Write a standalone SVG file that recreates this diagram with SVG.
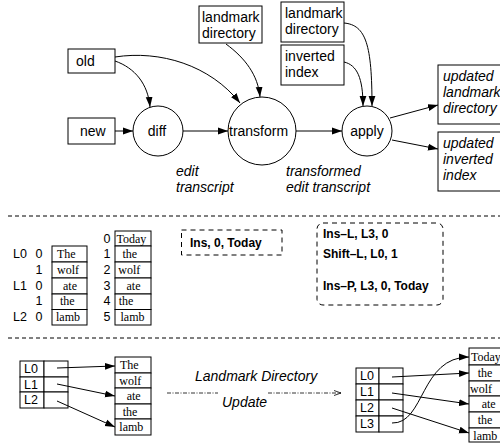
<svg xmlns="http://www.w3.org/2000/svg" width="500" height="443" viewBox="0 0 500 443">
<defs>
<style>
.n{font-family:"Liberation Sans",Arial,sans-serif;font-size:14px;fill:#000}
.it{font-family:"Liberation Sans",Arial,sans-serif;font-size:14px;font-style:italic;fill:#000}
.b{font-family:"Liberation Sans",Arial,sans-serif;font-size:12px;font-weight:bold;fill:#000}
.sm{font-family:"Liberation Sans",Arial,sans-serif;font-size:12.5px;fill:#000}
.t{font-family:"Liberation Serif","Times New Roman",serif;font-size:12px;fill:#000}
.bx{fill:#fff;stroke:#000;stroke-width:1}
.ln{fill:none;stroke:#000;stroke-width:1}
.dl{fill:none;stroke:#000;stroke-width:1;stroke-dasharray:4,3}
.db{fill:none;stroke:#000;stroke-width:1;stroke-dasharray:5,4}
.dd{fill:none;stroke:#000;stroke-width:0.8;stroke-dasharray:4,1.5,1,1.5}
</style>
<marker id="ah" markerWidth="10" markerHeight="8" refX="10" refY="4" orient="auto" markerUnits="userSpaceOnUse"><path d="M0,0.6 L10,4 L0,7.4 z" fill="#000"/></marker>
<marker id="oh" markerWidth="8" markerHeight="6" refX="7" refY="3" orient="auto" markerUnits="userSpaceOnUse"><path d="M0,0.5 L7,3 L0,5.5" fill="none" stroke="#000" stroke-width="0.8"/></marker>
</defs>
<rect width="500" height="443" fill="#fff"/>

<!-- top flow nodes -->
<g id="old"><rect class="bx" x="68" y="49" width="47" height="24"/><text class="n" x="76" y="66">old</text></g>
<g id="new"><rect class="bx" x="68" y="118" width="47" height="26"/><text class="n" x="80" y="136">new</text></g>
<g id="diff"><circle class="bx" cx="158" cy="131" r="25"/><text class="n" x="157" y="136" text-anchor="middle">diff</text></g>
<g id="transform"><circle class="bx" cx="262" cy="131" r="34"/><text class="n" x="229" y="136">transform</text></g>
<g id="apply"><circle class="bx" cx="367" cy="131" r="25"/><text class="n" x="367" y="136" text-anchor="middle">apply</text></g>
<g id="landmark-dir-1"><rect class="bx" x="199" y="6" width="63" height="37"/><text class="n" x="202" y="22">landmark</text><text class="n" x="202" y="38">directory</text></g>
<g id="landmark-dir-2"><rect class="bx" x="281" y="2" width="63" height="40"/><text class="n" x="285" y="18">landmark</text><text class="n" x="285" y="34">directory</text></g>
<g id="inverted-index"><rect class="bx" x="281" y="45" width="63" height="40"/><text class="n" x="285" y="61">inverted</text><text class="n" x="285" y="77">index</text></g>
<g id="updated-landmark"><rect class="bx" x="438" y="65" width="72" height="59"/><text class="it" x="443" y="81">updated</text><text class="it" x="443" y="97">landmark</text><text class="it" x="443" y="113">directory</text></g>
<g id="updated-inverted"><rect class="bx" x="438" y="132" width="72" height="59"/><text class="it" x="443" y="148">updated</text><text class="it" x="443" y="164">inverted</text><text class="it" x="443" y="180">index</text></g>

<g id="connectors">
<path class="ln" d="M115,131 L133,131" marker-end="url(#ah)"/>
<path class="ln" d="M183,131 L228,131" marker-end="url(#ah)"/>
<path class="ln" d="M296,131 L342,131" marker-end="url(#ah)"/>
<path class="ln" d="M115,61 C135,68 148,84 150,107" marker-end="url(#ah)"/>
<path class="ln" d="M115,57 C160,50 210,65 240,103" marker-end="url(#ah)"/>
<path class="ln" d="M226,44 C245,58 258,75 260,97" marker-end="url(#ah)"/>
<path class="ln" d="M344,23 C366,25 372,45 372,106" marker-end="url(#ah)"/>
<path class="ln" d="M344,62 C357,65 363,78 363,106" marker-end="url(#ah)"/>
<path class="ln" d="M390,118 L438,105" marker-end="url(#ah)"/>
<path class="ln" d="M392,140 L438,149" marker-end="url(#ah)"/>
</g>

<text class="it" x="176" y="176">edit</text>
<text class="it" x="176" y="192">transcript</text>
<text class="it" x="286" y="176">transformed</text>
<text class="it" x="286" y="192">edit transcript</text>

<line class="dl" x1="8" y1="216" x2="500" y2="216"/>

<!-- middle section -->
<g id="table-before">
<text class="sm" x="13" y="258">L0</text><text class="sm" x="35.5" y="258">0</text>
<text class="sm" x="35.5" y="274">1</text>
<text class="sm" x="13" y="290">L1</text><text class="sm" x="35.5" y="290">0</text>
<text class="sm" x="35.5" y="305">1</text>
<text class="sm" x="13" y="321">L2</text><text class="sm" x="35.5" y="321">0</text>
<rect class="bx" x="52" y="246" width="35" height="16"/>
<rect class="bx" x="52" y="262" width="35" height="16"/>
<rect class="bx" x="52" y="278" width="35" height="16"/>
<rect class="bx" x="52" y="294" width="35" height="15.5"/>
<rect class="bx" x="52" y="309.5" width="35" height="15.5"/>
<text class="t" x="57" y="258">The</text>
<text class="t" x="57" y="274">wolf</text>
<text class="t" x="63" y="290">ate</text>
<text class="t" x="60" y="305">the</text>
<text class="t" x="56" y="321">lamb</text>
</g>
<g id="table-after">
<text class="sm" x="103.5" y="243">0</text>
<text class="sm" x="103.5" y="258">1</text>
<text class="sm" x="103.5" y="274">2</text>
<text class="sm" x="103.5" y="290">3</text>
<text class="sm" x="103.5" y="305">4</text>
<text class="sm" x="103.5" y="321">5</text>
<rect class="bx" x="115" y="231" width="36" height="15"/>
<rect class="bx" x="115" y="246" width="36" height="16"/>
<rect class="bx" x="115" y="262" width="36" height="16"/>
<rect class="bx" x="115" y="278" width="36" height="16"/>
<rect class="bx" x="115" y="294" width="36" height="15.5"/>
<rect class="bx" x="115" y="309.5" width="36" height="15.5"/>
<text class="t" x="116.5" y="243">Today</text>
<text class="t" x="122.5" y="258">the</text>
<text class="t" x="118.3" y="274">wolf</text>
<text class="t" x="126.5" y="290">ate</text>
<text class="t" x="118.7" y="305">the</text>
<text class="t" x="120.5" y="321">lamb</text>
</g>
<g id="edit-ins"><rect class="db" x="181.5" y="230" width="100.5" height="25"/><text class="b" x="190" y="247">Ins, 0, Today</text></g>
<g id="edit-transformed"><rect class="db" x="317" y="223" width="126" height="82" rx="6" ry="6"/>
<text class="b" x="323" y="238">Ins–L, L3, 0</text>
<text class="b" x="323" y="258">Shift–L, L0, 1</text>
<text class="b" x="323" y="290">Ins–P, L3, 0, Today</text>
</g>

<line class="dl" x1="8" y1="338" x2="500" y2="338"/>

<!-- bottom section -->
<g id="ld-before">
<rect class="bx" x="20" y="361" width="24" height="16"/><rect class="bx" x="44" y="361" width="24" height="16"/>
<rect class="bx" x="20" y="377" width="24" height="15"/><rect class="bx" x="44" y="377" width="24" height="15"/>
<rect class="bx" x="20" y="392" width="24" height="16"/><rect class="bx" x="44" y="392" width="24" height="16"/>
<text class="sm" x="24" y="373">L0</text>
<text class="sm" x="24" y="389">L1</text>
<text class="sm" x="24" y="404">L2</text>
</g>
<g id="words-before">
<rect class="bx" x="115" y="357" width="36" height="16"/>
<rect class="bx" x="115" y="373" width="36" height="15"/>
<rect class="bx" x="115" y="388" width="36" height="16"/>
<rect class="bx" x="115" y="404" width="36" height="15"/>
<rect class="bx" x="115" y="419" width="36" height="16"/>
<text class="t" x="120" y="369">The</text>
<text class="t" x="119.3" y="385">wolf</text>
<text class="t" x="126.7" y="400">ate</text>
<text class="t" x="122.7" y="416">the</text>
<text class="t" x="119.3" y="431">lamb</text>
</g>
<g id="ld-after">
<rect class="bx" x="356" y="368" width="23" height="16"/><rect class="bx" x="379" y="368" width="24" height="16"/>
<rect class="bx" x="356" y="384" width="23" height="16"/><rect class="bx" x="379" y="384" width="24" height="16"/>
<rect class="bx" x="356" y="400" width="23" height="16"/><rect class="bx" x="379" y="400" width="24" height="16"/>
<rect class="bx" x="356" y="416" width="23" height="16"/><rect class="bx" x="379" y="416" width="24" height="16"/>
<text class="sm" x="360" y="380">L0</text>
<text class="sm" x="360" y="396">L1</text>
<text class="sm" x="360" y="412">L2</text>
<text class="sm" x="360" y="428">L3</text>
</g>
<g id="words-after">
<rect class="bx" x="469" y="348" width="36" height="17"/>
<rect class="bx" x="469" y="365" width="36" height="16"/>
<rect class="bx" x="469" y="381" width="36" height="15"/>
<rect class="bx" x="469" y="396" width="36" height="16"/>
<rect class="bx" x="469" y="412" width="36" height="16"/>
<rect class="bx" x="469" y="428" width="36" height="14"/>
<text class="t" x="471" y="361">Today</text>
<text class="t" x="477.7" y="377">the</text>
<text class="t" x="470" y="393">wolf</text>
<text class="t" x="481.7" y="408">ate</text>
<text class="t" x="477.7" y="424">the</text>
<text class="t" x="473.3" y="440">lamb</text>
</g>

<g id="bottom-connectors">
<path class="ln" d="M57,368 L115,366" marker-end="url(#ah)"/>
<path class="ln" d="M57,384 L115,396" marker-end="url(#ah)"/>
<path class="ln" d="M57,401 L115,427" marker-end="url(#ah)"/>
<path class="ln" d="M392,377 L469,373" marker-end="url(#ah)"/>
<path class="ln" d="M392,393 L469,404" marker-end="url(#ah)"/>
<path class="ln" d="M392,408 L469,433" marker-end="url(#ah)"/>
<path class="ln" d="M392,423 C425,424 420,357 469,357" marker-end="url(#ah)"/>
<line class="dd" x1="167" y1="393" x2="218" y2="393"/>
<path class="dd" d="M268,393 L341,393" marker-end="url(#oh)"/>
</g>
<text class="it" x="195" y="381">Landmark Directory</text>
<text class="it" x="222" y="407">Update</text>
</svg>
